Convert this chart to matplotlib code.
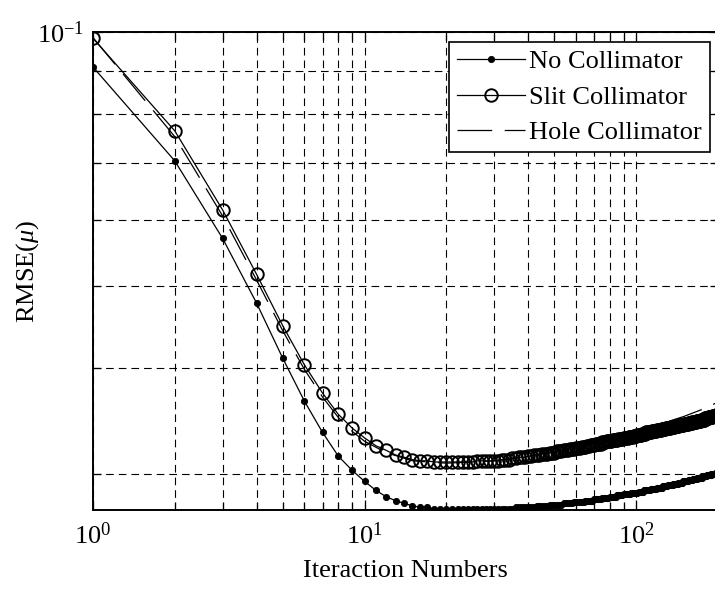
import numpy as np
import matplotlib
matplotlib.use("Agg")
import matplotlib.pyplot as plt
from matplotlib.ticker import LogLocator, NullFormatter, FixedLocator

plt.rcParams['font.family'] = ['Liberation Serif', 'DejaVu Serif']
plt.rcParams['mathtext.fontset'] = 'custom'
plt.rcParams['mathtext.rm'] = 'Liberation Serif'
plt.rcParams['mathtext.it'] = 'Liberation Serif:italic'
plt.rcParams['lines.scale_dashes'] = False
plt.rcParams['axes.unicode_minus'] = False

# Iteration numbers 1..200
iterations = list(range(1, 201))

no_collimator = [
    0.0909, 0.0704, 0.0570, 0.0478, 0.0411, 0.0366, 0.0336, 0.0315, 0.0303, 0.0294,
    0.0287, 0.0282, 0.0279, 0.0277, 0.0275, 0.0274, 0.0274, 0.0273, 0.0273, 0.0273,
    0.0273, 0.0273, 0.0273, 0.0273, 0.0273, 0.0273, 0.0273, 0.0273, 0.0273, 0.0273,
    0.0273, 0.0273, 0.0273, 0.0273, 0.0273, 0.0274, 0.0274, 0.0274, 0.0274, 0.0274,
    0.0274, 0.0274, 0.0275, 0.0275, 0.0275, 0.0275, 0.0275, 0.0276, 0.0276, 0.0276,
    0.0276, 0.0276, 0.0276, 0.0277, 0.0277, 0.0277, 0.0277, 0.0277, 0.0278, 0.0278,
    0.0278, 0.0278, 0.0278, 0.0278, 0.0279, 0.0279, 0.0279, 0.0279, 0.0279, 0.0280,
    0.0280, 0.0280, 0.0280, 0.0280, 0.0281, 0.0281, 0.0281, 0.0281, 0.0281, 0.0282,
    0.0282, 0.0282, 0.0282, 0.0282, 0.0283, 0.0283, 0.0283, 0.0283, 0.0283, 0.0284,
    0.0284, 0.0284, 0.0284, 0.0284, 0.0284, 0.0285, 0.0285, 0.0285, 0.0285, 0.0285,
    0.0285, 0.0286, 0.0286, 0.0286, 0.0286, 0.0286, 0.0287, 0.0287, 0.0287, 0.0287,
    0.0287, 0.0287, 0.0288, 0.0288, 0.0288, 0.0288, 0.0288, 0.0288, 0.0289, 0.0289,
    0.0289, 0.0289, 0.0289, 0.0289, 0.0290, 0.0290, 0.0290, 0.0290, 0.0290, 0.0290,
    0.0291, 0.0291, 0.0291, 0.0291, 0.0291, 0.0291, 0.0292, 0.0292, 0.0292, 0.0292,
    0.0292, 0.0292, 0.0293, 0.0293, 0.0293, 0.0293, 0.0293, 0.0293, 0.0294, 0.0294,
    0.0294, 0.0294, 0.0294, 0.0294, 0.0294, 0.0295, 0.0295, 0.0295, 0.0295, 0.0295,
    0.0295, 0.0296, 0.0296, 0.0296, 0.0296, 0.0296, 0.0296, 0.0297, 0.0297, 0.0297,
    0.0297, 0.0297, 0.0297, 0.0297, 0.0298, 0.0298, 0.0298, 0.0298, 0.0298, 0.0298,
    0.0298, 0.0299, 0.0299, 0.0299, 0.0299, 0.0299, 0.0299, 0.0299, 0.0300, 0.0300,
    0.0300, 0.0300, 0.0300, 0.0300, 0.0300, 0.0301, 0.0301, 0.0301, 0.0301, 0.0301,
]

slit_collimator = [
    0.0983, 0.0764, 0.0616, 0.0517, 0.0449, 0.0404, 0.0374, 0.0353, 0.0340, 0.0331,
    0.0324, 0.0320, 0.0316, 0.0314, 0.0312, 0.0311, 0.0311, 0.0310, 0.0310, 0.0310,
    0.0310, 0.0310, 0.0310, 0.0310, 0.0310, 0.0311, 0.0311, 0.0311, 0.0311, 0.0311,
    0.0311, 0.0312, 0.0312, 0.0312, 0.0313, 0.0313, 0.0314, 0.0314, 0.0314, 0.0315,
    0.0315, 0.0316, 0.0316, 0.0316, 0.0317, 0.0317, 0.0317, 0.0318, 0.0318, 0.0318,
    0.0319, 0.0319, 0.0319, 0.0320, 0.0320, 0.0320, 0.0321, 0.0321, 0.0321, 0.0322,
    0.0322, 0.0322, 0.0323, 0.0323, 0.0323, 0.0324, 0.0324, 0.0325, 0.0325, 0.0325,
    0.0326, 0.0326, 0.0326, 0.0326, 0.0327, 0.0327, 0.0327, 0.0328, 0.0328, 0.0328,
    0.0328, 0.0329, 0.0329, 0.0329, 0.0329, 0.0330, 0.0330, 0.0330, 0.0330, 0.0331,
    0.0331, 0.0331, 0.0331, 0.0332, 0.0332, 0.0332, 0.0332, 0.0333, 0.0333, 0.0333,
    0.0334, 0.0334, 0.0334, 0.0334, 0.0335, 0.0335, 0.0335, 0.0335, 0.0336, 0.0336,
    0.0336, 0.0336, 0.0336, 0.0337, 0.0337, 0.0337, 0.0337, 0.0337, 0.0338, 0.0338,
    0.0338, 0.0338, 0.0338, 0.0339, 0.0339, 0.0339, 0.0339, 0.0339, 0.0340, 0.0340,
    0.0340, 0.0340, 0.0340, 0.0341, 0.0341, 0.0341, 0.0341, 0.0341, 0.0342, 0.0342,
    0.0342, 0.0342, 0.0342, 0.0343, 0.0343, 0.0343, 0.0343, 0.0343, 0.0343, 0.0344,
    0.0344, 0.0344, 0.0344, 0.0344, 0.0344, 0.0345, 0.0345, 0.0345, 0.0345, 0.0345,
    0.0346, 0.0346, 0.0346, 0.0346, 0.0346, 0.0346, 0.0347, 0.0347, 0.0347, 0.0347,
    0.0347, 0.0347, 0.0348, 0.0348, 0.0348, 0.0348, 0.0348, 0.0348, 0.0349, 0.0349,
    0.0349, 0.0349, 0.0349, 0.0349, 0.0350, 0.0350, 0.0350, 0.0350, 0.0350, 0.0350,
    0.0351, 0.0351, 0.0351, 0.0351, 0.0351, 0.0351, 0.0352, 0.0352, 0.0352, 0.0352,
]

hole_iterations = [1, 2, 3, 4, 5, 6, 7, 8, 9, 10, 12, 15, 20, 30, 40, 50, 60, 80,
                   100, 120, 150, 180, 200]
hole_collimator = [0.0985, 0.0752, 0.0606, 0.0509, 0.0443, 0.0399, 0.0370, 0.0350,
                   0.0337, 0.0328, 0.0318, 0.0311, 0.0309, 0.0311, 0.0315, 0.0319,
                   0.0323, 0.0331, 0.0337, 0.0343, 0.0351, 0.0359, 0.0365]

labels = ["No Collimator", "Slit Collimator", "Hole Collimator"]
x_label = "Iteraction Numbers"
y_label = r"RMSE($\mu$)"

W, H = 715, 589
fig = plt.figure(figsize=(W / 100, H / 100), dpi=100)
ax = fig.add_axes([93 / W, 1 - 510 / H, (718 - 93) / W, 478 / H])

ax.plot(iterations, no_collimator, color='k', lw=0.9, marker='o', ms=4.5,
        mfc='k', mec='k', mew=0.6, label=labels[0], zorder=3)
ax.plot(iterations, slit_collimator, color='k', lw=0.9, marker='o', ms=9,
        mfc='none', mec='k', mew=1.4, label=labels[1], zorder=3)
ax.plot(hole_iterations, hole_collimator, color='k', lw=0.9,
        dashes=(25, 9), label=labels[2], zorder=4)

ax.set_xscale('log')
ax.set_yscale('log')
ax.set_xlim(1, 200)
ax.set_ylim(0.0272, 0.1)

ax.xaxis.set_major_locator(FixedLocator([1, 10, 100]))
ax.xaxis.set_minor_locator(LogLocator(base=10, subs=np.arange(2, 10)))
ax.xaxis.set_minor_formatter(NullFormatter())
ax.yaxis.set_major_locator(FixedLocator([0.1]))
ax.yaxis.set_minor_locator(LogLocator(base=10, subs=np.arange(2, 10)))
ax.yaxis.set_minor_formatter(NullFormatter())

ax.grid(True, which='both', color='k', linewidth=0.8, linestyle=(0, (5.5, 3.6)))
ax.tick_params(which='both', direction='in', top=True, right=True,
               labelsize=19, width=0.9, color='k')
ax.tick_params(which='major', length=7)
ax.tick_params(axis='x', which='major', pad=9)
ax.tick_params(axis='y', which='major', pad=6)
ax.tick_params(which='minor', length=6)
for s in ax.spines.values():
    s.set_linewidth(1.4)

ax.set_xlabel(x_label, fontsize=19)
ax.xaxis.set_label_coords(0.5, -0.104)
ax.set_ylabel(y_label, fontsize=19)
ax.yaxis.set_label_coords(-0.083, 0.5)

leg = ax.legend(loc='upper right', bbox_to_anchor=(710 / W, 1 - 42 / H),
                bbox_transform=fig.transFigure, borderaxespad=0, fontsize=19,
                fancybox=False, framealpha=1, edgecolor='k', handlelength=2.6,
                handletextpad=0.15, labelspacing=0.45, borderpad=0.3)
leg.get_frame().set_linewidth(1.2)

fig.savefig("out.png", dpi=100)
